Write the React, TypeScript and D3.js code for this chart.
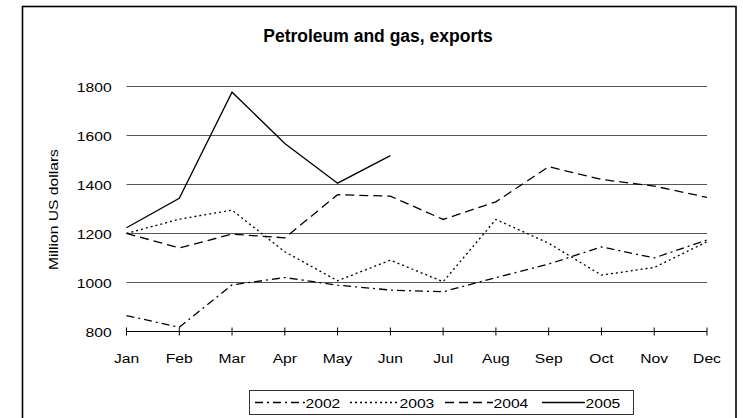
import React from "react";
import * as d3 from "d3";

const months = ["Jan", "Feb", "Mar", "Apr", "May", "Jun", "Jul", "Aug", "Sep", "Oct", "Nov", "Dec"];
const yTicks = [800, 1000, 1200, 1400, 1600, 1800];
const s2002 = [865, 817, 990, 1020, 989, 969, 962, 1020, 1075, 1145, 1100, 1173];
const s2003 = [1200, 1258, 1295, 1125, 1007, 1091, 1003, 1257, 1160, 1030, 1061, 1166];
const s2004 = [1200, 1141, 1197, 1182, 1358, 1352, 1257, 1329, 1472, 1420, 1393, 1347];
const s2005 = [1223, 1343, 1776, 1567, 1405, 1517];
const seriesNames = ["2002", "2003", "2004", "2005"];
const seriesData = [s2002, s2003, s2004, s2005];
const dashes = ["8,4,2,4", "2,3", "9,5", "none"];

const W = 743;
const H = 418;
const FONT = "'Liberation Sans', Arial, Helvetica, sans-serif";
const SX = 1.16;

function T({ x, y, size = 13.5, anchor = "middle", rotate = 0, bold = false, stretch = SX, children }: any) {
  return (
    <text
      transform={`translate(${x},${y}) rotate(${rotate}) scale(${stretch},1)`}
      fontFamily={FONT}
      fontSize={size}
      fontWeight={bold ? "bold" : "normal"}
      textAnchor={anchor}
      fill="#000"
    >
      {children}
    </text>
  );
}

export default function App() {
  const x = d3.scalePoint<string>().domain(months).range([126.5, 707]);
  const y = d3.scaleLinear().domain([800, 1800]).range([331.5, 86.3]);
  const line = d3
    .line<number>()
    .x((_, i) => x(months[i]) as number)
    .y((d) => y(d));

  const legendItems = [
    { lx1: 255, lx2: 305, tx: 305.5 },
    { lx1: 350, lx2: 399, tx: 399.5 },
    { lx1: 445, lx2: 493, tx: 493.5 },
    { lx1: 542, lx2: 585, tx: 585.5 },
  ];

  return (
    <svg
      width={W}
      height={H}
      style={{ position: "absolute", left: 0, top: 0, background: "#fff" }}
    >
      <rect x={0} y={0} width={W} height={H} fill="#fff" />
      <rect x={22.5} y={6.5} width={713.5} height={420} fill="none" stroke="#000" strokeWidth={1.6} />
      <T x={378} y={42} size={17.5} bold stretch={1}>
        Petroleum and gas, exports
      </T>
      {yTicks.slice(1).map((t) => (
        <line key={t} x1={126.5} x2={707} y1={Math.round(y(t)) + 0.5} y2={Math.round(y(t)) + 0.5} stroke="#555" strokeWidth={1} />
      ))}
      {yTicks.map((t) => (
        <T key={t} x={111.7} y={y(t) + 5.2} anchor="end">
          {t}
        </T>
      ))}
      <T x={58} y={209.5} rotate={-90}>
        Million US dollars
      </T>
      <line x1={126.5} x2={707} y1={331.5} y2={331.5} stroke="#000" strokeWidth={1} />
      {months.map((m) => (
        <g key={m}>
          <line x1={x(m)} x2={x(m)} y1={327.5} y2={335.5} stroke="#000" strokeWidth={1} />
          <T x={x(m)} y={362.5}>
            {m}
          </T>
        </g>
      ))}
      {seriesData.map((s, i) => (
        <path
          key={seriesNames[i]}
          d={line(s) as string}
          fill="none"
          stroke="#000"
          strokeWidth={1.3}
          strokeDasharray={dashes[i]}
        />
      ))}
      <rect x={249.5} y={390.5} width={384} height={24} fill="#fff" stroke="#333" strokeWidth={1} />
      {seriesNames.map((n, i) => (
        <g key={n}>
          <line
            x1={legendItems[i].lx1}
            x2={legendItems[i].lx2}
            y1={402.5}
            y2={402.5}
            stroke="#000"
            strokeWidth={1.3}
            strokeDasharray={dashes[i]}
          />
          <T x={legendItems[i].tx} y={407.5} anchor="start">
            {n}
          </T>
        </g>
      ))}
    </svg>
  );
}
